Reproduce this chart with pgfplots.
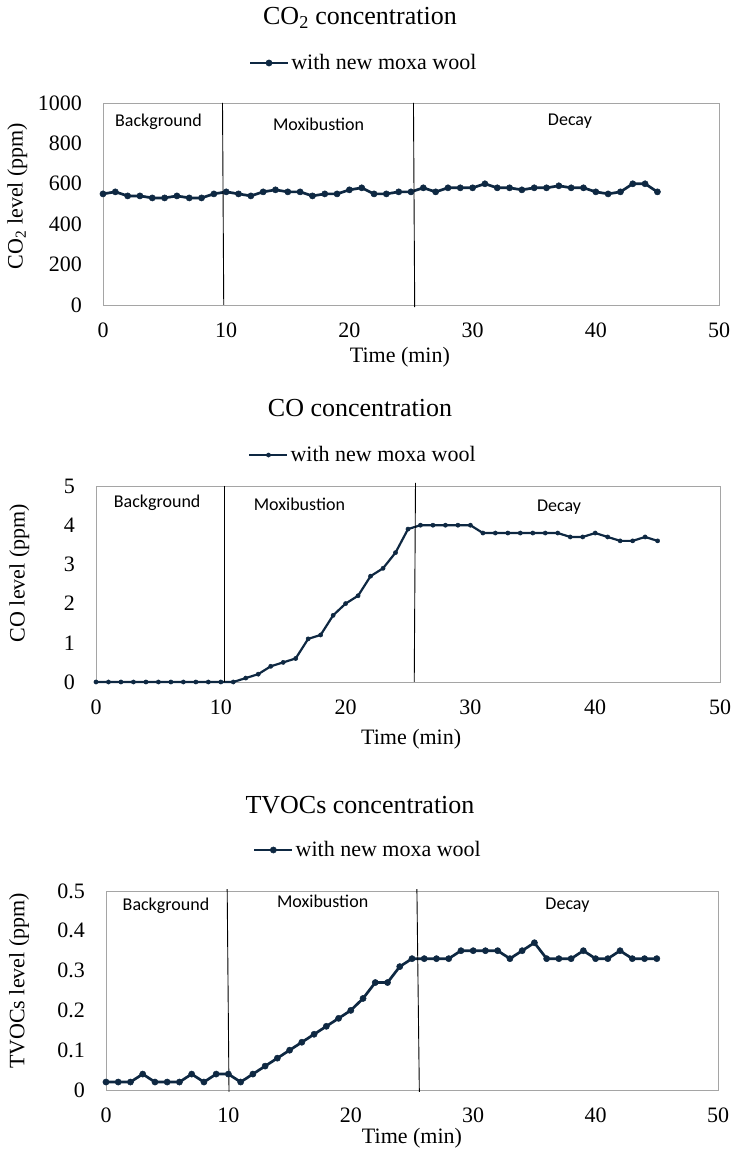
\documentclass[border=0pt]{standalone}
\usepackage{pgfplots}
\pgfplotsset{compat=1.18}
\usepackage{fontspec}
\setmainfont{Liberation Serif}
\newfontfamily\carlito{Carlito}
\definecolor{navy}{RGB}{14,40,66}
\definecolor{framegray}{RGB}{165,165,165}
\newcommand\tfont{\fontsize{26bp}{30bp}\selectfont}
\newcommand\lfont{\fontsize{22bp}{26bp}\selectfont}
\newcommand\rfont{\carlito\fontsize{18bp}{21bp}\selectfont}
\pgfplotsset{
  mystyle/.style={
    scale only axis, anchor=south west,
    xmin=0, xmax=50, xtick={0,10,20,30,40,50},
    axis line style={draw=framegray, line width=0.9bp},
    major tick length=0pt,
    tick label style={font=\lfont},
    /pgf/number format/assume math mode=true,
    /pgf/number format/1000 sep={},
    xticklabel style={anchor=center, inner sep=0pt, yshift=-25bp},
    yticklabel style={anchor=east, inner sep=0pt, xshift=-21bp},
    label style={font=\lfont},
    clip=false,
    legend style={draw=none, fill=none, font=\lfont, anchor=center, inner sep=0pt,
      nodes={inner sep=2bp}},
    legend image code/.code={\draw[mark repeat=2,mark phase=2,#1]
      plot coordinates {(0bp,0bp)(19bp,0bp)(38bp,0bp)};},
  },
  dataline/.style={navy, line width=2.7bp, mark=*, mark size=3.1bp,
    mark options={fill=navy, draw=navy, line width=0.5bp}},
  divline/.style={black, line width=0.9bp, no markers, forget plot},
}
\begin{document}
\begin{tikzpicture}
\useasboundingbox (0bp,0bp) rectangle (737bp,1162bp);

% ---------------- CO2 ----------------
\begin{axis}[mystyle,
  at={(103bp,857bp)}, width=616bp, height=202bp,
  ymin=0, ymax=1000, ytick={0,200,400,600,800,1000},
  xlabel={Time (min)}, ylabel={CO\textsubscript{2} level (ppm)},
  xlabel style={at={(axis description cs:0.482,-0.257)}, anchor=center},
  ylabel style={at={(axis description cs:-0.139,0.54)}, anchor=center},
  legend style={at={(axis description cs:0.423,1.198)}},
]
\addplot[dataline] coordinates {
(0,550)(1,560)(2,540)(3,540)(4,530)(5,530)(6,540)(7,530)(8,530)(9,550)
(10,560)(11,550)(12,540)(13,560)(14,570)(15,560)(16,560)(17,540)(18,550)(19,550)
(20,570)(21,580)(22,550)(23,550)(24,560)(25,560)(26,580)(27,560)(28,580)(29,580)
(30,580)(31,600)(32,580)(33,580)(34,570)(35,580)(36,580)(37,590)(38,580)(39,580)
(40,560)(41,550)(42,560)(43,600)(44,600)(45,560)};
\addlegendentry{with new moxa wool}
\addplot[divline] coordinates {(9.7,1000)(9.8,0)};
\addplot[divline] coordinates {(25.2,1000)(25.3,-10)};
\node[font=\rfont] at (axis cs:4.5,905) {Background};
\node[font=\rfont] at (axis cs:17.5,895) {Moxibustion};
\node[font=\rfont] at (axis cs:37.9,912) {Decay};
\end{axis}

% ---------------- CO ----------------
\begin{axis}[mystyle,
  at={(96bp,480bp)}, width=624bp, height=196bp,
  ymin=0, ymax=5, ytick={0,1,2,3,4,5},
  xlabel={Time (min)}, ylabel={CO level (ppm)},
  xlabel style={at={(axis description cs:0.505,-0.29)}, anchor=center},
  ylabel style={at={(axis description cs:-0.123,0.556)}, anchor=center},
  legend style={at={(axis description cs:0.428,1.158)}},
]
\addplot[dataline, line width=2.2bp, mark size=2.1bp] coordinates {
(0,0)(1,0)(2,0)(3,0)(4,0)(5,0)(6,0)(7,0)(8,0)(9,0)
(10,0)(11,0)(12,0.1)(13,0.2)(14,0.4)(15,0.5)(16,0.6)(17,1.1)(18,1.2)(19,1.7)
(20,2.0)(21,2.2)(22,2.7)(23,2.9)(24,3.3)(25,3.9)(26,4.0)(27,4.0)(28,4.0)(29,4.0)
(30,4.0)(31,3.8)(32,3.8)(33,3.8)(34,3.8)(35,3.8)(36,3.8)(37,3.8)(38,3.7)(39,3.7)
(40,3.8)(41,3.7)(42,3.6)(43,3.6)(44,3.7)(45,3.6)};
\addlegendentry{with new moxa wool}
\addplot[divline] coordinates {(10.3,5)(10.3,0)};
\addplot[divline] coordinates {(25.6,5.08)(25.5,0)};
\node[font=\rfont] at (axis cs:4.9,4.57) {Background};
\node[font=\rfont] at (axis cs:16.3,4.52) {Moxibustion};
\node[font=\rfont] at (axis cs:37.1,4.46) {Decay};
\end{axis}

% ---------------- TVOCs ----------------
\begin{axis}[mystyle,
  at={(106bp,72bp)}, width=612bp, height=199bp,
  ymin=0, ymax=0.5, ytick={0,0.1,0.2,0.3,0.4,0.5},
  yticklabels={0,0.1,0.2,0.3,0.4,0.5},
  xlabel={Time (min)}, ylabel={TVOCs level (ppm)},
  xlabel style={at={(axis description cs:0.50,-0.241)}, anchor=center},
  ylabel style={at={(axis description cs:-0.142,0.548)}, anchor=center},
  legend style={at={(axis description cs:0.428,1.206)}},
]
\addplot[dataline] coordinates {
(0,0.02)(1,0.02)(2,0.02)(3,0.04)(4,0.02)(5,0.02)(6,0.02)(7,0.04)(8,0.02)(9,0.04)
(10,0.04)(11,0.02)(12,0.04)(13,0.06)(14,0.08)(15,0.10)(16,0.12)(17,0.14)(18,0.16)(19,0.18)
(20,0.20)(21,0.23)(22,0.27)(23,0.27)(24,0.31)(25,0.33)(26,0.33)(27,0.33)(28,0.33)(29,0.35)
(30,0.35)(31,0.35)(32,0.35)(33,0.33)(34,0.35)(35,0.37)(36,0.33)(37,0.33)(38,0.33)(39,0.35)
(40,0.33)(41,0.33)(42,0.35)(43,0.33)(44,0.33)(45,0.33)};
\addlegendentry{with new moxa wool}
\addplot[divline] coordinates {(9.9,0.505)(10.05,-0.005)};
\addplot[divline] coordinates {(25.4,0.505)(25.6,-0.005)};
\node[font=\rfont] at (axis cs:4.9,0.464) {Background};
\node[font=\rfont] at (axis cs:17.7,0.475) {Moxibustion};
\node[font=\rfont] at (axis cs:37.7,0.464) {Decay};
\end{axis}

% titles
\node[font=\tfont] at (360bp,1144bp) {CO\textsubscript{2} concentration};
\node[font=\tfont] at (360bp,754bp) {CO concentration};
\node[font=\tfont] at (360bp,357bp) {TVOCs concentration};
\end{tikzpicture}
\end{document}
